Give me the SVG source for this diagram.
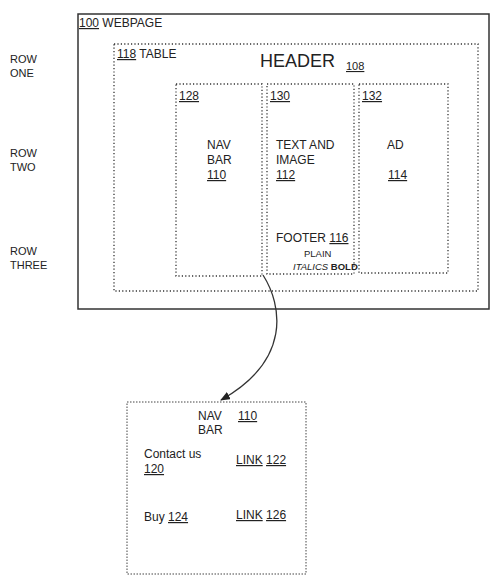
<svg xmlns="http://www.w3.org/2000/svg" width="500" height="587" viewBox="0 0 500 587">
<style>
text{font-family:"Liberation Sans",Arial,sans-serif;fill:#222;font-size:12px}
.u{text-decoration:underline}
.solid{fill:none;stroke:#333;stroke-width:1.5}
.dot{fill:none;stroke:#333;stroke-width:1.3;stroke-dasharray:1.2 2.2}
.thin{fill:none;stroke:#444;stroke-width:1;stroke-dasharray:1.5 1.5}
.lbl{font-size:11px}
.small{font-size:9.5px}
</style>
<defs>
<marker id="ah" markerWidth="10" markerHeight="8" refX="9" refY="4" orient="auto" markerUnits="userSpaceOnUse">
<path d="M0,0 L10,4 L0,8 z" fill="#222"/>
</marker>
</defs>
<g id="row-labels">
<text class="lbl" x="10" y="63">ROW</text><text class="lbl" x="10" y="77">ONE</text>
<text class="lbl" x="10" y="157">ROW</text><text class="lbl" x="10" y="171">TWO</text>
<text class="lbl" x="10" y="255">ROW</text><text class="lbl" x="10" y="269">THREE</text>
</g>
<g id="webpage">
<rect class="solid" x="78" y="14" width="411" height="295"/>
<text x="79" y="27"><tspan class="u">100</tspan> WEBPAGE</text>
</g>
<g id="table">
<rect class="dot" x="114" y="44" width="364" height="247"/>
<text x="117" y="58"><tspan class="u">118</tspan> TABLE</text>
</g>
<g id="header">
<text x="260" y="67" style="font-size:18px">HEADER</text>
<text x="346" y="70" class="u lbl">108</text>
</g>
<g id="col128">
<rect class="dot" x="176" y="84" width="86" height="192"/>
<text x="179" y="100" class="u">128</text>
<text x="207" y="149">NAV</text>
<text x="207" y="164">BAR</text>
<text x="207" y="179" class="u">110</text>
</g>
<g id="col130">
<rect class="dot" x="267" y="84" width="87" height="190"/>
<text x="270" y="100" class="u">130</text>
<text x="276" y="149">TEXT AND</text>
<text x="276" y="164">IMAGE</text>
<text x="276" y="179" class="u">112</text>
<text x="276" y="242">FOOTER <tspan class="u">116</tspan></text>
<text x="304" y="257" class="small">PLAIN</text>
<text x="293" y="270" class="small"><tspan font-style="italic">ITALICS</tspan> <tspan font-weight="bold">BOLD</tspan></text>
</g>
<g id="col132">
<rect class="dot" x="359" y="84" width="89" height="189"/>
<text x="362" y="100" class="u">132</text>
<text x="387" y="149">AD</text>
<text x="388" y="179" class="u">114</text>
</g>
<g id="connectors">
<path d="M263,275 C282,305 292,360 221,400" fill="none" stroke="#333" stroke-width="1.3" marker-end="url(#ah)"/>
</g>
<g id="navbar-detail">
<rect class="thin" x="127" y="402" width="179" height="172"/>
<text x="198" y="420">NAV</text>
<text x="198" y="434">BAR</text>
<text x="238" y="420" class="u">110</text>
<text x="144" y="458">Contact us</text>
<text x="144" y="473" class="u">120</text>
<text x="236" y="464"><tspan class="u">LINK</tspan> <tspan class="u">122</tspan></text>
<text x="144" y="521">Buy <tspan class="u">124</tspan></text>
<text x="236" y="519"><tspan class="u">LINK</tspan> <tspan class="u">126</tspan></text>
</g>
</svg>
